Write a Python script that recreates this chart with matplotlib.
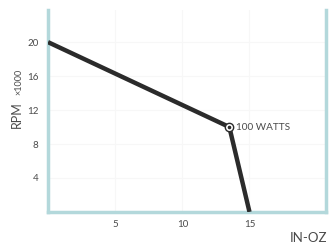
import matplotlib.pyplot as plt

# torque (in-oz) vs speed (rpm x 1000)
torque = [0, 13.5, 15]
rpm = [20, 10, 0]
xticks = [5, 10, 15]
yticks = [4, 8, 12, 16, 20]

axis_col = "#b3d8db"
text_col = "#4a4a4a"

plt.rcParams['font.family'] = ['Lato', 'DejaVu Sans']

fig = plt.figure(figsize=(3.29, 2.47), dpi=100)
ax = fig.add_axes([0.146, 0.142, 0.845, 0.818])
ax.set_xlim(0, 20.7)
ax.set_ylim(0, 23.8)

ax.plot(torque, rpm, color="#2b2b2b", lw=3.2, solid_capstyle="butt", zorder=3)
ax.plot(torque[1], rpm[1], "o", ms=6, mfc="white", mec="#2b2b2b", mew=1.0, zorder=4)
ax.plot(torque[1], rpm[1], "o", ms=1.6, color="#2b2b2b", zorder=5)
ax.annotate("100 WATTS", (torque[1], rpm[1]), xytext=(5, 0), textcoords="offset points",
            va="center", ha="left", fontsize=7.2, color=text_col)

ax.set_xticks(xticks)
ax.set_yticks(yticks)
ax.tick_params(length=0, labelsize=7, colors=text_col)
ax.tick_params(axis="y", pad=7)
ax.tick_params(axis="x", pad=6)
ax.grid(color="#f7f7f7", lw=0.8)

for side in ["left", "bottom", "right"]:
    ax.spines[side].set_color(axis_col)
    ax.spines[side].set_linewidth(2.5)
ax.spines["top"].set_visible(False)

# y label: "RPM" with a smaller "x1000"
fig.text(23 / 329, (247 - 115) / 247, "RPM", rotation=90, fontsize=9, color=text_col,
         ha="right", va="center")
fig.text(23 / 329, (247 - 82) / 247, "×1000", rotation=90, fontsize=6.5, color=text_col,
         ha="right", va="center")
fig.text(0.88, 0.035, "IN-OZ", fontsize=9.5, color=text_col, ha="left", va="center")

fig.savefig("out.png")
